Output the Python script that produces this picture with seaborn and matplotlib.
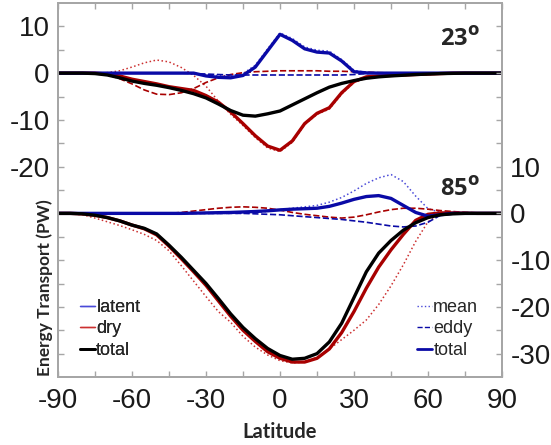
import matplotlib

matplotlib.use("Agg")

import matplotlib.pyplot as plt
import numpy as np
import seaborn as sns
from matplotlib.lines import Line2D

# latitude grid (deg)
lat = list(range(-90, 95, 5))

# --- 23 deg obliquity (upper panel), PW ---
latent_total_23 = [0, 0, 0, 0, 0, 0, 0, 0, 0, 0, 0, 0, -0.6, -0.9, -1.0, -0.5, 1.3, 4.8, 8.3,
                   7.0, 5.2, 4.5, 4.3, 2.6, 0.3, 0.05, 0, 0, 0, 0, 0, 0, 0, 0, 0, 0, 0]
latent_mean_23 = [0, 0, 0, 0, 0, 0, 0, 0, 0, 0, 0, -0.1, -0.3, -0.5, -0.6, -0.1, 1.7, 5.2, 8.6,
                  7.4, 5.6, 4.9, 4.7, 2.9, 0.6, 0.15, 0, 0, 0, 0, 0, 0, 0, 0, 0, 0, 0]
latent_eddy_23 = [0, 0, 0, 0, 0, 0, 0, 0, 0, 0, 0, -0.1, -0.2, -0.3, -0.4, -0.4, -0.4, -0.4, -0.4,
                  -0.4, -0.4, -0.4, -0.4, -0.4, -0.3, -0.1, 0, 0, 0, 0, 0, 0, 0, 0, 0, 0, 0]
dry_total_23 = [0, 0, 0, 0, -0.2, -0.6, -1.3, -1.8, -2.3, -2.9, -3.3, -3.7, -4.8, -6.2, -8.3, -10.8,
                -13.4, -15.6, -16.5, -14.5, -10.8, -8.6, -7.4, -4.2, -1.8, -0.8, -0.6, -0.5, -0.4,
                -0.3, -0.2, -0.1, 0, 0, 0, 0, 0]
dry_mean_23 = [0, 0, 0, 0, 0.1, 0.5, 1.3, 2.2, 2.8, 2.4, 1.2, -0.5, -2.8, -6.0, -8.8, -11.2, -13.8,
               -16.0, -16.8, -14.8, -11.0, -8.8, -7.7, -4.5, -2.0, -1.0, -0.7, -0.6, -0.5, -0.4,
               -0.3, -0.2, -0.1, 0, 0, 0, 0]
dry_eddy_23 = [0, 0, 0, 0, -0.3, -1.2, -2.3, -3.6, -4.5, -4.6, -4.2, -3.3, -2.0, -1.0, -0.3, 0.1,
               0.3, 0.4, 0.5, 0.5, 0.5, 0.5, 0.4, 0.4, 0.3, 0.2, 0.1, 0.05, 0, 0, 0, 0, 0, 0, 0, 0, 0]
total_23 = [0, 0, 0, -0.1, -0.4, -1.0, -1.7, -2.2, -2.6, -3.1, -3.7, -4.4, -5.3, -6.6, -8.0, -9.0,
            -9.2, -8.7, -8.1, -6.8, -5.5, -4.2, -3.0, -2.2, -1.6, -1.1, -0.8, -0.6, -0.45, -0.3,
            -0.2, -0.1, -0.05, 0, 0, 0, 0]

# --- 85 deg obliquity (lower panel), PW ---
latent_total_85 = [0, 0, 0, 0, 0, 0, 0, 0, 0, 0, 0, 0.05, 0.1, 0.15, 0.2, 0.3, 0.4, 0.55, 0.75,
                   0.9, 1.0, 1.1, 1.5, 2.2, 3.0, 3.6, 3.8, 3.2, 1.7, 0.2, -0.6, -0.3, 0, 0, 0, 0, 0]
latent_mean_85 = [0, 0, 0, 0, 0, 0, 0, 0, 0, 0, 0, 0, 0, 0, 0, 0, 0.2, 0.4, 0.8, 1.1, 1.4, 1.7,
                  2.4, 3.4, 4.8, 6.4, 7.6, 8.3, 6.8, 3.7, 1.0, 0.2, 0, 0, 0, 0, 0]
latent_eddy_85 = [0, 0, 0, 0, 0, 0, 0, 0, 0, 0, 0, 0, 0, 0, 0, 0, -0.1, -0.2, -0.3, -0.5, -0.7,
                  -0.9, -1.1, -1.3, -1.6, -1.9, -2.3, -2.7, -2.9, -2.7, -1.9, -0.4, 0, 0, 0, 0, 0]
dry_total_85 = [0, 0, -0.1, -0.4, -0.9, -1.6, -2.5, -3.3, -4.6, -7.0, -9.7, -12.5, -15.4, -18.7,
                -22.0, -25.0, -27.4, -29.6, -31.0, -31.8, -31.8, -31.0, -29.0, -25.5, -21.0, -16.0,
                -11.5, -7.8, -4.5, -1.5, -0.2, 0.1, 0.1, 0.05, 0, 0, 0]
dry_mean_85 = [0, -0.1, -0.3, -1.0, -1.8, -2.6, -3.5, -4.5, -5.8, -8.0, -11.2, -14.5, -17.8, -21.0,
               -23.3, -26.3, -28.6, -30.3, -31.5, -32.0, -31.8, -30.8, -29.0, -27.0, -25.0, -22.8,
               -19.5, -15.5, -11.0, -6.0, -1.8, -0.2, 0, 0, 0, 0, 0]
dry_eddy_85 = [0, 0, 0, 0, 0, 0, 0, 0, 0, 0, 0.2, 0.5, 0.8, 1.1, 1.3, 1.4, 1.3, 1.1, 0.7, 0.2, -0.2,
               -0.5, -0.8, -1.0, -0.8, -0.3, 0.3, 0.8, 1.1, 1.1, 0.9, 0.6, 0.4, 0.2, 0.1, 0, 0]
total_85 = [0, 0, -0.1, -0.4, -0.9, -1.6, -2.5, -3.2, -4.4, -6.8, -9.4, -12.2, -15.0, -18.2, -21.5,
            -24.4, -26.8, -28.9, -30.4, -31.2, -31.0, -30.0, -27.5, -23.5, -18.0, -12.5, -8.5,
            -5.8, -3.6, -2.0, -0.9, -0.3, -0.1, 0, 0, 0, 0]

panel_labels = ["23", "85"]
xticks = [-90, -60, -30, 0, 30, 60, 90]
left_ticklabels = ["10", "0", "-10", "-20"]
right_ticklabels = ["10", "0", "-10", "-20", "-30"]

OFFSET = 30  # upper panel is drawn shifted up by this many PW

BLUE = "#0a0aa6"
BLUE_LIGHT = "#4a4ad8"
RED = "#a80000"
RED_LIGHT = "#cc3030"

sns.set_style("ticks")
plt.rcParams["font.family"] = ["Liberation Sans", "DejaVu Sans"]

fig = plt.figure(figsize=(5.51, 4.45), dpi=100)
ax = fig.add_axes([58 / 551, 68 / 445, 444 / 551, 374 / 445])


def draw(y, shift, color, ls, lw):
    vals = np.asarray(y) + shift
    sns.lineplot(x=lat, y=vals, ax=ax, color=color, linestyle=ls, linewidth=lw,
                 estimator=None, sort=False)


for shift, series in [
    (OFFSET, (latent_mean_23, latent_eddy_23, latent_total_23,
              dry_mean_23, dry_eddy_23, dry_total_23, total_23)),
    (0, (latent_mean_85, latent_eddy_85, latent_total_85,
         dry_mean_85, dry_eddy_85, dry_total_85, total_85)),
]:
    lm, le, lt, dm, de, dt, tt = series
    draw(dm, shift, RED_LIGHT, ":", 1.1)
    draw(lm, shift, BLUE_LIGHT, ":", 1.1)
    draw(de, shift, RED, "--", 1.2)
    draw(le, shift, BLUE, "--", 1.2)
    draw(dt, shift, RED, "-", 2.4)
    draw(lt, shift, BLUE, "-", 2.4)
    draw(tt, shift, "black", "-", 2.4)

ax.set_xlim(-90, 90)
ax.set_ylim(-35, 45)
ax.set_xticks(xticks)
ax.set_xticks(range(-90, 91, 15), minor=True)
ax.set_xticklabels([str(t) for t in xticks])

yt = list(range(-30, 45, 5))
ax.set_yticks(yt)
left_map = dict(zip([40, 30, 20, 10], left_ticklabels))
ax.set_yticklabels([left_map.get(t, "") for t in yt])

axr = ax.twinx()
axr.set_ylim(ax.get_ylim())
axr.set_yticks(yt)
right_map = dict(zip([10, 0, -10, -20, -30], right_ticklabels))
axr.set_yticklabels([right_map.get(t, "") for t in yt])

SPINE = "#a6a6a6"
for a in (ax, axr):
    for s in a.spines.values():
        s.set_color(SPINE)
        s.set_linewidth(1.4)
    a.tick_params(axis="both", which="both", direction="in", color=SPINE, width=1.0,
                  length=4, labelsize=20, labelcolor="#1a1a1a", pad=6)
ax.tick_params(axis="x", which="both", top=True, pad=8)
ax.set_xlabel("")
ax.set_ylabel("")

fig.text(280 / 551, 1 - 432 / 445, "Latitude", ha="center", va="center",
         fontsize=14.5, fontweight="bold", family="Lato")
fig.text(45 / 551, 1 - 288 / 445, "Energy Transport (PW)", ha="center", va="center",
         rotation=90, fontsize=12.5, fontweight="bold", family="Lato")

for name, ypx in zip(panel_labels, [40, 190]):
    fig.text(440 / 551, 1 - ypx / 445, name + r"$^{\mathbf{o}}$", ha="left", va="center",
             fontsize=17, fontweight="bold", family="Open Sans")

left_handles = [Line2D([], [], color=BLUE_LIGHT, lw=1.0),
                Line2D([], [], color=RED_LIGHT, lw=1.0),
                Line2D([], [], color="black", lw=2.0)]
leg1 = ax.legend(left_handles, ["latent", "dry", "total"], loc="lower left",
                 bbox_to_anchor=(22 / 444, 18 / 374), frameon=False, fontsize=13,
                 handlelength=0.85, handletextpad=0.05, labelspacing=0.25,
                 borderaxespad=0, borderpad=0)
ax.add_artist(leg1)
right_handles = [Line2D([], [], color=BLUE_LIGHT, lw=1.0, ls=":"),
                 Line2D([], [], color=BLUE, lw=1.0, ls="--"),
                 Line2D([], [], color=BLUE, lw=2.0)]
axr.legend(right_handles, ["mean", "eddy", "total"], loc="lower left",
           bbox_to_anchor=(359 / 444, 18 / 374), frameon=False, fontsize=13,
           handlelength=0.85, handletextpad=0.05, labelspacing=0.25,
           borderaxespad=0, borderpad=0)

fig.savefig("out.png", dpi=100)
